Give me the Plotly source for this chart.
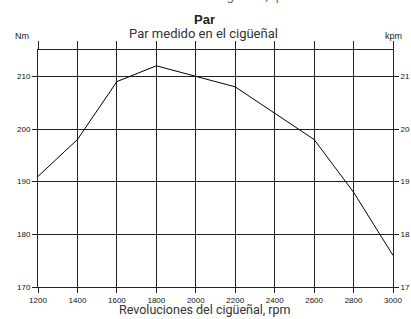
import plotly.graph_objects as go

rpm = [1200, 1400, 1600, 1800, 2000, 2200, 2400, 2600, 2800, 3000]
torque_nm = [191, 198, 209, 212, 210, 208, 203, 198, 188, 176]
x_ticks = [1200, 1400, 1600, 1800, 2000, 2200, 2400, 2600, 2800, 3000]
nm_ticks = [170, 180, 190, 200, 210]
kpm_ticks = [17, 18, 19, 20, 21]

TICKFONT = dict(family="Liberation Sans Narrow, Liberation Sans, Arial", size=8, color="#111")
GRID = "#222"
LABELFONT = dict(family="Roboto, Arial", size=13, color="#333")

fig = go.Figure()
fig.add_trace(go.Scatter(x=rpm, y=torque_nm, mode="lines",
                         line=dict(color="black", width=1), showlegend=False, hoverinfo="skip"))
# helper trace to activate secondary axes
fig.add_trace(go.Scatter(x=[rpm[0]], y=[kpm_ticks[0]], xaxis="x2", yaxis="y2", mode="markers",
                         marker=dict(opacity=0), showlegend=False, hoverinfo="skip"))

fig.update_layout(
    width=411, height=319,
    margin=dict(l=38, r=18, t=50, b=32, autoexpand=False),
    paper_bgcolor="white", plot_bgcolor="white",
    xaxis=dict(range=[1200, 3000], tickvals=x_ticks, ticks="outside", ticklen=5,
               tickcolor=GRID, showgrid=True, gridcolor=GRID, gridwidth=1, automargin=False,
               showline=True, linecolor=GRID, zeroline=False, tickfont=TICKFONT),
    xaxis2=dict(range=[1200, 3000], tickvals=x_ticks, overlaying="x", side="top",
                ticks="outside", ticklen=8, tickcolor=GRID, showticklabels=False, automargin=False,
                showgrid=False, showline=True, linecolor=GRID, zeroline=False),
    yaxis=dict(range=[170, 215], tickvals=nm_ticks, ticks="outside", ticklen=5, automargin=False,
               tickcolor=GRID, showgrid=True, gridcolor=GRID, gridwidth=1,
               showline=True, linecolor=GRID, zeroline=False, tickfont=TICKFONT),
    yaxis2=dict(range=[17, 21.5], tickvals=kpm_ticks, overlaying="y", side="right", automargin=False,
                ticks="outside", ticklen=5, tickcolor=GRID, showgrid=False,
                showline=True, linecolor=GRID, zeroline=False, tickfont=TICKFONT),
    annotations=[
        dict(text="<b>Par</b>", xref="paper", yref="paper", x=0.47, y=1.0, yshift=21,
             yanchor="bottom", showarrow=False, font=dict(family="Liberation Sans, Arial", size=13, color="#222")),
        dict(text="Par medido en el cigüeñal", xref="paper", yref="paper", x=0.465, y=1.0, yshift=7,
             yanchor="bottom", showarrow=False, font=LABELFONT),
        dict(text="Revoluciones del cigüeñal, rpm", xref="paper", yref="paper", x=0.47, y=-0.132,
             yanchor="bottom", showarrow=False, borderpad=0,
             font=dict(family="Roboto, Arial", size=12.5, color="#333")),
        dict(text="Nm", xref="paper", yref="paper", x=-0.02, y=1.0, yshift=7, xanchor="right",
             yanchor="bottom", showarrow=False, font=dict(family="Liberation Sans, Arial", size=9, color="#222")),
        dict(text="kpm", xref="paper", yref="paper", x=1.0, y=1.0, yshift=7, xanchor="center",
             yanchor="bottom", showarrow=False, font=dict(family="Liberation Sans, Arial", size=9, color="#222")),
        dict(text="Revoluciones del cigüeñal, rpm", xref="paper", yref="paper", x=0.47, y=1.0, yshift=45,
             yanchor="bottom", showarrow=False, font=dict(family="Roboto, Arial", size=13, color="#666")),
    ],
)

fig.write_html("out.html", config={"displayModeBar": False},
               post_script="document.body.style.margin='0';document.body.style.overflow='hidden';")
